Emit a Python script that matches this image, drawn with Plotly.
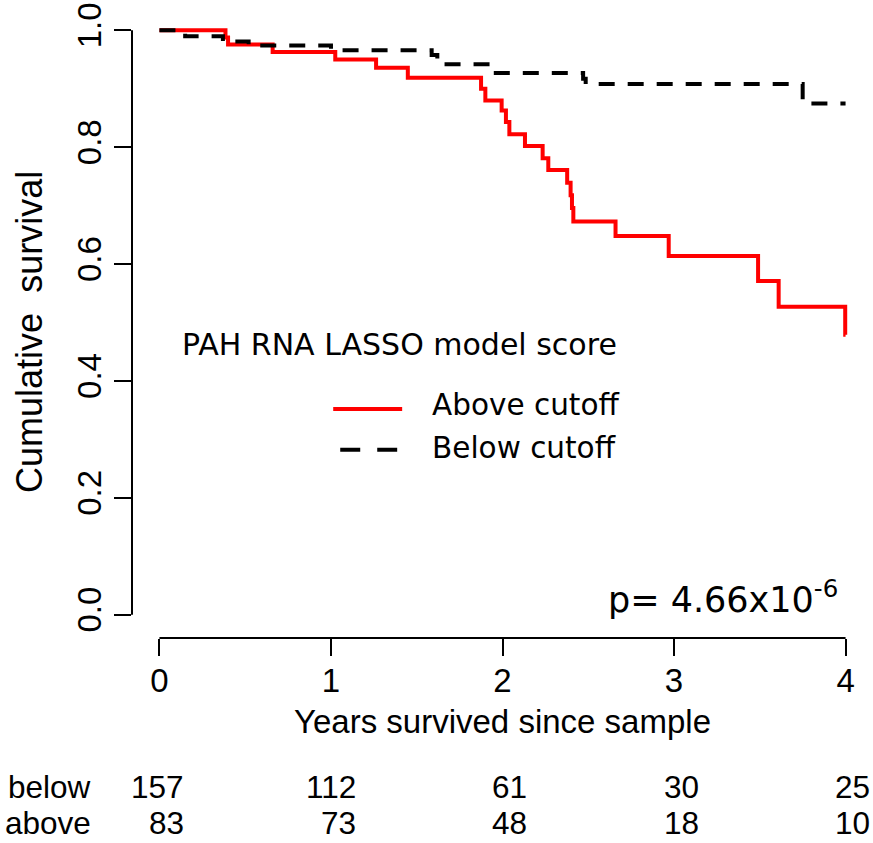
import plotly.graph_objects as go

# Kaplan-Meier step data
above_t = [0, 0.385, 0.40, 0.66, 1.025, 1.263, 1.448, 1.875, 1.90, 1.995, 2.02, 2.04,
           2.131, 2.234, 2.267, 2.377, 2.397, 2.405, 2.413, 2.659, 2.969, 3.49, 3.61, 3.998, 4.0]
above_s = [1.0, 0.988, 0.976, 0.963, 0.950, 0.936, 0.919, 0.900, 0.880, 0.863, 0.843, 0.822,
           0.802, 0.781, 0.761, 0.739, 0.718, 0.696, 0.673, 0.648, 0.614, 0.571, 0.527, 0.479, 0.479]

below_t = [0, 0.15, 0.37, 0.52, 1.0, 1.587, 1.62, 1.94, 2.47, 2.485, 3.75, 4.0]
below_s = [1.0, 0.990, 0.981, 0.974, 0.966, 0.958, 0.942, 0.927, 0.917, 0.908, 0.875, 0.875]

# risk table
risk_times = [0, 1, 2, 3, 4]
risk_below = [157, 112, 61, 30, 25]
risk_above = [83, 73, 48, 18, 10]

x_ticks = [0, 1, 2, 3, 4]
y_ticks = [0.0, 0.2, 0.4, 0.6, 0.8, 1.0]
y_ticklabels = ["0.0", "0.2", "0.4", "0.6", "0.8", "1.0"]

legend_title = "PAH RNA LASSO model score"
legend_labels = ["Above cutoff", "Below cutoff"]
p_text = "p= 4.66x10<sup>-6</sup>"

NARROW = "Liberation Sans Narrow, Liberation Sans, Arial, sans-serif"
VERD = "DejaVu Sans, Verdana, sans-serif"
FS = 33

fig = go.Figure()
fig.add_trace(go.Scatter(x=above_t, y=above_s, mode="lines", line=dict(shape="hv", color="#ff0000", width=4),
                         name=legend_labels[0], showlegend=False))
fig.add_trace(go.Scatter(x=below_t, y=below_s, mode="lines",
                         line=dict(shape="hv", color="#000000", width=4, dash="16px,13px"),
                         name=legend_labels[1], showlegend=False))

XR = [-0.16, 4.16]
YR = [-0.04, 1.04]

fig.update_xaxes(range=XR, tickvals=x_ticks, ticktext=[str(v) for v in x_ticks], ticks="outside",
                 ticklen=17, tickwidth=2, tickcolor="black", showline=False, showgrid=False, zeroline=False,
                 tickfont=dict(family=NARROW, size=FS, color="black"), ticklabelstandoff=-4,
                 title=dict(text="Years survived since sample", font=dict(family=NARROW, size=FS, color="black"),
                            standoff=12))
fig.update_yaxes(range=YR, tickvals=y_ticks, ticktext=y_ticklabels, ticks="outside", ticklen=17, tickwidth=2,
                 tickcolor="black", showline=False, showgrid=False, zeroline=False, tickangle=-90,
                 tickfont=dict(family=NARROW, size=FS, color="black"))

# y-axis title
fig.add_annotation(x=-0.1377, y=0.485, xref="paper", yref="paper", text="Cumulative  survival",
                   textangle=-90, showarrow=False, xanchor="center", yanchor="middle",
                   font=dict(family=NARROW, size=36, color="black"))

# R-style axis lines spanning only the tick range
fig.add_shape(type="line", xref="x", yref="paper", x0=x_ticks[0], x1=x_ticks[-1], y0=0, y1=0,
              line=dict(color="black", width=2))
fig.add_shape(type="line", xref="paper", yref="y", x0=0, x1=0, y0=y_ticks[0], y1=y_ticks[-1],
              line=dict(color="black", width=2))

# legend drawn inside the plot
fig.add_annotation(x=0.122, y=0.4615, xref="x", yref="y", text=legend_title, showarrow=False,
                   xanchor="left", yanchor="middle", font=dict(family=VERD, size=30, color="black"))
fig.add_shape(type="line", xref="x", yref="y", x0=1.013, x1=1.415, y0=0.352, y1=0.352,
              line=dict(color="#ff0000", width=4))
fig.add_shape(type="line", xref="x", yref="y", x0=1.054, x1=1.386, y0=0.282, y1=0.282,
              line=dict(color="black", width=4, dash="20px,17px"))
fig.add_annotation(x=1.575, y=0.359, xref="x", yref="y", text=legend_labels[0], showarrow=False,
                   xanchor="left", yanchor="middle", font=dict(family=VERD, size=29.5, color="black"))
fig.add_annotation(x=1.575, y=0.2855, xref="x", yref="y", text=legend_labels[1], showarrow=False,
                   xanchor="left", yanchor="middle", font=dict(family=VERD, size=29.5, color="black"))

fig.add_annotation(x=3.965, y=0.03, xref="x", yref="y", text=p_text, showarrow=False,
                   xanchor="right", yanchor="middle", font=dict(family=VERD, size=35, color="black"))

# number-at-risk table
for label, counts, yy in (("below", risk_below, -0.2368), ("above", risk_above, -0.293)):
    fig.add_annotation(x=-0.052, y=yy, xref="paper", yref="paper", text=label, showarrow=False,
                       xanchor="right", yanchor="middle", font=dict(family=NARROW, size=31.5, color="black"))
    for t, n in zip(risk_times, counts):
        fig.add_annotation(x=t + 0.155, y=yy, xref="x", yref="paper", text=str(n), showarrow=False,
                           xanchor="right", yanchor="middle", font=dict(family=NARROW, size=31.5, color="black"))

fig.update_layout(width=873, height=843, margin=dict(l=132, r=0, t=7, b=205, pad=0),
                  plot_bgcolor="white", paper_bgcolor="white", showlegend=False)

fig.write_html("out.html")
